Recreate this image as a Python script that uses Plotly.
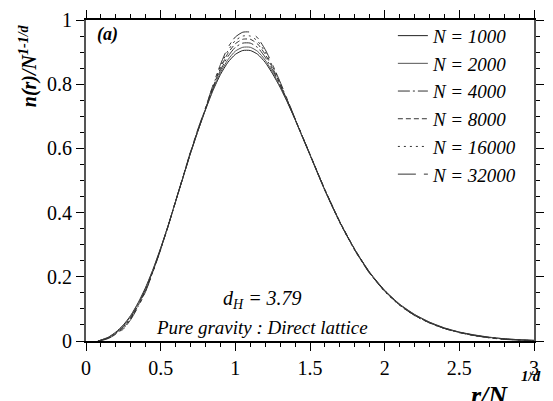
import plotly.graph_objects as go

x = [0.08, 0.1, 0.15, 0.2, 0.25, 0.3, 0.35, 0.4, 0.45, 0.5, 0.55, 0.6, 0.65, 0.7, 0.75,
     0.8, 0.85, 0.9, 0.95, 1.0, 1.05, 1.1, 1.15, 1.2, 1.25, 1.3, 1.35, 1.4, 1.45, 1.5,
     1.6, 1.7, 1.8, 1.9, 2.0, 2.1, 2.2, 2.3, 2.4, 2.5, 2.6, 2.7, 2.8, 2.9, 3.0]

n1000 = [0.0, 0.003, 0.012, 0.028, 0.050, 0.080, 0.120, 0.168, 0.225, 0.290, 0.360, 0.435, 0.510, 0.585, 0.655,
         0.720, 0.780, 0.830, 0.868, 0.893, 0.905, 0.905, 0.893, 0.868, 0.832, 0.790, 0.742, 0.690, 0.635, 0.580,
         0.470, 0.370, 0.285, 0.214, 0.158, 0.115, 0.083, 0.059, 0.041, 0.028, 0.019, 0.012, 0.007, 0.004, 0.002]
n2000 = [0.0, 0.003, 0.011, 0.026, 0.047, 0.077, 0.117, 0.165, 0.223, 0.289, 0.359, 0.435, 0.510, 0.585, 0.655,
         0.721, 0.783, 0.836, 0.876, 0.903, 0.915, 0.915, 0.902, 0.875, 0.837, 0.793, 0.744, 0.690, 0.634, 0.579,
         0.468, 0.369, 0.284, 0.212, 0.156, 0.114, 0.082, 0.058, 0.040, 0.027, 0.018, 0.011, 0.007, 0.004, 0.002]
n4000 = [0.0, 0.002, 0.010, 0.025, 0.044, 0.074, 0.114, 0.162, 0.221, 0.287, 0.358, 0.434, 0.510, 0.586, 0.656,
         0.722, 0.787, 0.843, 0.886, 0.915, 0.928, 0.928, 0.914, 0.884, 0.844, 0.797, 0.745, 0.691, 0.636, 0.581,
         0.471, 0.371, 0.283, 0.210, 0.155, 0.112, 0.080, 0.057, 0.039, 0.027, 0.018, 0.011, 0.006, 0.003, 0.001]
n8000 = [0.0, 0.002, 0.009, 0.023, 0.041, 0.071, 0.111, 0.159, 0.219, 0.286, 0.358, 0.435, 0.511, 0.587, 0.658,
         0.724, 0.790, 0.849, 0.896, 0.926, 0.940, 0.940, 0.925, 0.893, 0.850, 0.800, 0.747, 0.692, 0.637, 0.582,
         0.472, 0.372, 0.286, 0.213, 0.157, 0.113, 0.081, 0.057, 0.040, 0.027, 0.017, 0.010, 0.006, 0.003, 0.001]
n16000 = [0.0, 0.002, 0.009, 0.022, 0.039, 0.069, 0.109, 0.157, 0.218, 0.285, 0.357, 0.435, 0.512, 0.588, 0.659,
          0.725, 0.794, 0.855, 0.904, 0.936, 0.950, 0.950, 0.934, 0.900, 0.855, 0.804, 0.749, 0.692, 0.636, 0.580,
          0.469, 0.368, 0.282, 0.211, 0.154, 0.111, 0.079, 0.056, 0.039, 0.026, 0.017, 0.010, 0.006, 0.003, 0.001]
n32000 = [0.0, 0.001, 0.008, 0.021, 0.037, 0.067, 0.107, 0.155, 0.217, 0.285, 0.358, 0.436, 0.513, 0.590, 0.661,
          0.726, 0.797, 0.861, 0.914, 0.947, 0.962, 0.962, 0.944, 0.908, 0.860, 0.807, 0.751, 0.693, 0.637, 0.581,
          0.470, 0.370, 0.284, 0.212, 0.156, 0.112, 0.080, 0.056, 0.039, 0.026, 0.017, 0.010, 0.005, 0.003, 0.001]

series = [("N = 1000", n1000, "solid", "#222"),
          ("N = 2000", n2000, "solid", "#555"),
          ("N = 4000", n4000, "12px,3px,2px,3px", "#333"),
          ("N = 8000", n8000, "5px,3px", "#333"),
          ("N = 16000", n16000, "2px,4px", "#333"),
          ("N = 32000", n32000, "18px,8px,4px,4px", "#333")]

FONT = "Liberation Serif"
fig = go.Figure()
for i, (name, y, dash, col) in enumerate(series):
    fig.add_trace(go.Scatter(x=x, y=y, mode="lines", name="<i>" + name + "</i>",
                             line=dict(color=col, width=1, dash=dash, shape="spline", smoothing=0.6),
                             legendgroup="g%d" % i))

fig.update_layout(
    width=553, height=401,
    margin=dict(l=86, r=9, t=16, b=60),
    plot_bgcolor="white",
    font=dict(family=FONT, size=19, color="black"),
    showlegend=True,
    legend=dict(x=0.685, y=1.01, xanchor="left", yanchor="top", bgcolor="rgba(0,0,0,0)",
                font=dict(family=FONT, size=19), tracegroupgap=0, itemwidth=30),
    xaxis=dict(range=[0, 3], dtick=0.5, showgrid=False, zeroline=False,
               showline=True, linecolor="black", linewidth=2, mirror="allticks",
               ticks="outside", ticklen=8, tickwidth=1, tickcolor="black",
               minor=dict(dtick=0.1, ticks="outside", ticklen=4, tickcolor="black"),
               tickfont=dict(family=FONT, size=20)),
    yaxis=dict(range=[0, 1], dtick=0.2, showgrid=False, zeroline=False,
               showline=True, linecolor="#555", linewidth=2, mirror="allticks",
               ticks="outside", ticklen=8, tickwidth=1, tickcolor="black",
               minor=dict(dtick=0.05, ticks="outside", ticklen=4, tickcolor="black"),
               tickfont=dict(family=FONT, size=20)),
)

fig.add_annotation(text="<b><i>n(r)/N<sup>1-1/d</sup></i></b>", textangle=-90,
                   xref="paper", yref="paper", x=-0.128, y=0.858, xanchor="center", yanchor="middle",
                   showarrow=False, font=dict(family=FONT, size=20))
fig.add_annotation(text="<b><i>r/N</i></b>", xref="paper", yref="paper", x=0.947, y=-0.17,
                   xanchor="right", yanchor="middle", showarrow=False, font=dict(family=FONT, size=26))
fig.add_annotation(text="<b><i>1/d</i></b>", xref="paper", yref="paper", x=1.02, y=-0.11,
                   xanchor="right", yanchor="middle", showarrow=False, font=dict(family=FONT, size=15))
fig.add_annotation(text="<b><i>(a)</i></b>", xref="paper", yref="paper", x=0.02, y=0.954,
                   xanchor="left", yanchor="middle", showarrow=False, font=dict(family=FONT, size=18))
fig.add_annotation(text="<i>d<sub>H</sub> = 3.79</i>", xref="paper", yref="paper", x=0.395, y=0.13,
                   xanchor="center", yanchor="middle", showarrow=False, font=dict(family=FONT, size=20))
fig.add_annotation(text="<i>Pure gravity : Direct lattice</i>", xref="paper", yref="paper", x=0.393, y=0.043,
                   xanchor="center", yanchor="middle", showarrow=False, font=dict(family=FONT, size=19))

fig.write_html("out.html")
